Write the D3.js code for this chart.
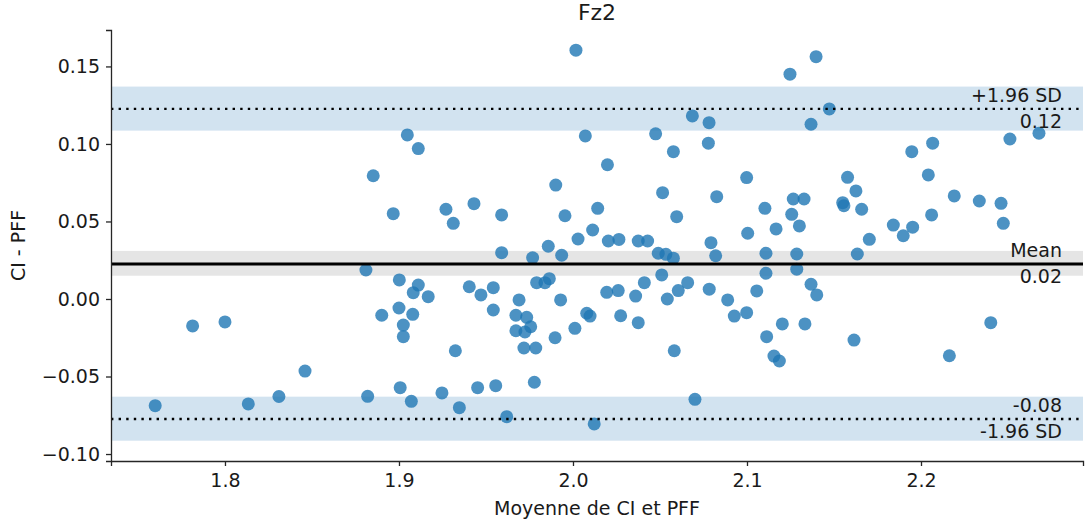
<!DOCTYPE html>
<html>
<head>
<meta charset="utf-8">
<script src="https://cdnjs.cloudflare.com/ajax/libs/d3/7.8.5/d3.min.js"></script>
<style>
    body { margin: 0; background: #fff; }
    text { font-family: "DejaVu Sans", sans-serif; fill: #1a1a1a; }
</style>
</head>
<body>
<div id="chart"></div>
<script>
// mean of the two methods (x) and their difference (y)
var meanValues = [1.7599, 1.7814, 1.8000, 1.8134, 1.8310, 1.8460, 1.8810, 1.8820, 1.8852, 1.8901,
    1.8967, 1.9002, 1.9000, 1.9025, 1.9025, 1.9007, 1.9048, 1.9079, 1.9082, 1.9111,
    1.9111, 1.9071, 1.9168, 1.9247, 1.9270, 1.9312, 1.9324, 1.9347, 1.9404, 1.9431,
    1.9452, 1.9471, 1.9542, 1.9542, 1.9556, 1.9590, 1.9590, 1.9619, 1.9672, 1.9672,
    1.9690, 1.9718, 1.9724, 1.9734, 1.9757, 1.9768, 1.9778, 1.9786, 1.9791, 1.9839,
    1.9858, 1.9864, 1.9897, 1.9901, 1.9929, 1.9935, 1.9954, 2.0011, 2.0017, 2.0029,
    2.0071, 2.0079, 2.0098, 2.0113, 2.0122, 2.0142, 2.0194, 2.0198, 2.0203, 2.0260,
    2.0264, 2.0274, 2.0360, 2.0375, 2.0375, 2.0410, 2.0429, 2.0475, 2.0490, 2.0510,
    2.0515, 2.0534, 2.0542, 2.0577, 2.0577, 2.0582, 2.0596, 2.0605, 2.0659, 2.0686,
    2.0701, 2.0782, 2.0778, 2.0783, 2.0793, 2.0820, 2.0826, 2.0889, 2.0927, 2.0998,
    2.0998, 2.1004, 2.1056, 2.1103, 2.1109, 2.1109, 2.1113, 2.1155, 2.1167, 2.1186,
    2.1203, 2.1247, 2.1257, 2.1266, 2.1286, 2.1286, 2.1301, 2.1328, 2.1333, 2.1368,
    2.1368, 2.1397, 2.1401, 2.1473, 2.1550, 2.1557, 2.1578, 2.1615, 2.1626, 2.1634,
    2.1659, 2.1703, 2.1841, 2.1898, 2.1947, 2.1952, 2.2042, 2.2061, 2.2067, 2.2163,
    2.2191, 2.2335, 2.2401, 2.2460, 2.2473, 2.2511, 2.2678];

var diffValues = [-0.0688, -0.0174, -0.0148, -0.0677, -0.0629, -0.0465, 0.0187, -0.0628, 0.0795, -0.0105,
    0.0550, 0.0123, -0.0058, -0.0168, -0.0243, -0.0572, 0.1058, -0.0099, 0.0041, 0.0090,
    0.0970, -0.0660, 0.0015, -0.0606, 0.0579, 0.0488, -0.0334, -0.0701, 0.0079, 0.0615,
    -0.0572, 0.0026, 0.0073, -0.0071, -0.0559, 0.0542, 0.0299, -0.0759, -0.0105, -0.0205,
    -0.0006, -0.0316, -0.0213, -0.0118, -0.0179, 0.0266, -0.0537, -0.0316, 0.0105, 0.0105,
    0.0340, 0.0131, -0.0250, 0.0735, -0.0006, 0.0282, 0.0537, -0.0189, 0.1605, 0.0387,
    0.1052, -0.0092, -0.0110, 0.0445, -0.0806, 0.0585, 0.0043, 0.0866, 0.0374, 0.0054,
    0.0384, -0.0108, 0.0019, 0.0374, -0.0153, 0.0105, 0.0374, 0.1065, 0.0295, 0.0155,
    0.0686, 0.0288, 0.0000, 0.0950, 0.0263, -0.0334, 0.0531, 0.0054, 0.0105, 0.1181,
    -0.0647, 0.1137, 0.1005, 0.0063, 0.0363, 0.0279, 0.0660, -0.0006, -0.0110, 0.0783,
    -0.0088, 0.0424, 0.0052, 0.0585, 0.0295, 0.0166, -0.0243, -0.0368, 0.0452, -0.0400,
    -0.0161, 0.1450, 0.0546, 0.0645, 0.0290, 0.0192, 0.0471, 0.0645, -0.0161, 0.1127,
    0.0095, 0.1563, 0.0026, 0.1226, 0.0621, 0.0602, 0.0785, -0.0265, 0.0697, 0.0290,
    0.0579, 0.0385, 0.0477, 0.0408, 0.0950, 0.0463, 0.0800, 0.0542, 0.1005, -0.0366,
    0.0665, 0.0632, -0.0153, 0.0617, 0.0488, 0.1032, 0.1069];

// reference lines: [value, CI low, CI high]
var meanLine = [0.0226, 0.0150, 0.0310];
var upperLine = [0.1226, 0.1086, 0.1370];
var lowerLine = [-0.0774, -0.0914, -0.0630];

var xTicks = [1.8, 1.9, 2.0, 2.1, 2.2];
var yTicks = [-0.10, -0.05, 0.00, 0.05, 0.10, 0.15];

var lineLabels = [
    {y: upperLine[0], above: "+1.96 SD", below: "0.12"},
    {y: meanLine[0], above: "Mean", below: "0.02"},
    {y: lowerLine[0], above: "-0.08", below: "-1.96 SD"}
];

var margin = {top: 30, right: 3, bottom: 64, left: 111};
var width = 1086 - margin.left - margin.right,
    height = 525 - margin.top - margin.bottom;

var svg = d3.select("#chart").append("svg")
    .attr("width", 1086)
    .attr("height", 525);

var g = svg.append("g")
    .attr("transform", "translate(" + margin.left + "," + margin.top + ")");

var x = d3.scaleLinear().domain([1.7345, 2.2931]).range([0, width]);
var y = d3.scaleLinear().domain([-0.1045, 0.1735]).range([height, 0]);

// CI bands
var bands = [
    {r: upperLine, fill: "#d2e3f0"},
    {r: meanLine, fill: "#e5e5e5"},
    {r: lowerLine, fill: "#d2e3f0"}
];
g.selectAll(".band")
    .data(bands)
    .enter().append("rect")
    .attr("class", "band")
    .attr("x", 0)
    .attr("width", width)
    .attr("y", function(d) { return y(d.r[2]); })
    .attr("height", function(d) { return y(d.r[1]) - y(d.r[2]); })
    .style("fill", function(d) { return d.fill; });

// points
g.selectAll(".dot")
    .data(meanValues)
    .enter().append("circle")
    .attr("class", "dot")
    .attr("cx", function(d) { return x(d); })
    .attr("cy", function(d, i) { return y(diffValues[i]); })
    .attr("r", 6.5)
    .style("fill", "#1f77b4")
    .style("fill-opacity", 0.8);

// limits of agreement
g.selectAll(".loa")
    .data([upperLine, lowerLine])
    .enter().append("line")
    .attr("class", "loa")
    .attr("x1", 0)
    .attr("x2", width)
    .attr("y1", function(d) { return y(d[0]); })
    .attr("y2", function(d) { return y(d[0]); })
    .style("stroke", "#000")
    .style("stroke-width", 2.4)
    .style("stroke-dasharray", "2.4,5.2");

g.append("line")
    .attr("x1", 0)
    .attr("x2", width)
    .attr("y1", y(meanLine[0]))
    .attr("y2", y(meanLine[0]))
    .style("stroke", "#000")
    .style("stroke-width", 3);

// labels at right end of the lines
var lbl = g.selectAll(".lbl")
    .data(lineLabels)
    .enter().append("g")
    .attr("class", "lbl");
lbl.append("text")
    .attr("x", width - 21)
    .attr("y", function(d) { return y(d.y) - 7; })
    .attr("text-anchor", "end")
    .style("font-size", "19px")
    .text(function(d) { return d.above; });
lbl.append("text")
    .attr("x", width - 21)
    .attr("y", function(d) { return y(d.y) + 19; })
    .attr("text-anchor", "end")
    .style("font-size", "19px")
    .text(function(d) { return d.below; });

// axes
var xAxis = d3.axisBottom(x).tickValues(xTicks).tickFormat(d3.format(".1f")).tickSizeOuter(0).tickSize(5).tickPadding(5);
var yAxis = d3.axisLeft(y).tickValues(yTicks).tickFormat(d3.format(".2f")).tickSizeOuter(0).tickSize(5).tickPadding(6);

var gx = g.append("g")
    .attr("transform", "translate(0," + height + ")")
    .call(xAxis);
var gy = g.append("g").call(yAxis);

[gx, gy].forEach(function(a) {
    a.selectAll("path, line").style("stroke", "#262626").style("stroke-width", 1.3);
    a.selectAll("text").style("font-size", "19px").style("font-family", "DejaVu Sans, sans-serif").style("fill", "#1a1a1a");
});
gx.selectAll("text").attr("dy", "0.85em");

// titles
svg.append("text")
    .attr("x", margin.left + width / 2)
    .attr("y", 20)
    .attr("text-anchor", "middle")
    .style("font-size", "22px")
    .text("Fz2");

svg.append("text")
    .attr("x", margin.left + width / 2)
    .attr("y", 515)
    .attr("text-anchor", "middle")
    .style("font-size", "19px")
    .text("Moyenne de CI et PFF");

svg.append("text")
    .attr("transform", "translate(25," + (margin.top + height / 2) + ") rotate(-90)")
    .attr("text-anchor", "middle")
    .style("font-size", "19px")
    .text("CI - PFF");
</script>
</body>
</html>
